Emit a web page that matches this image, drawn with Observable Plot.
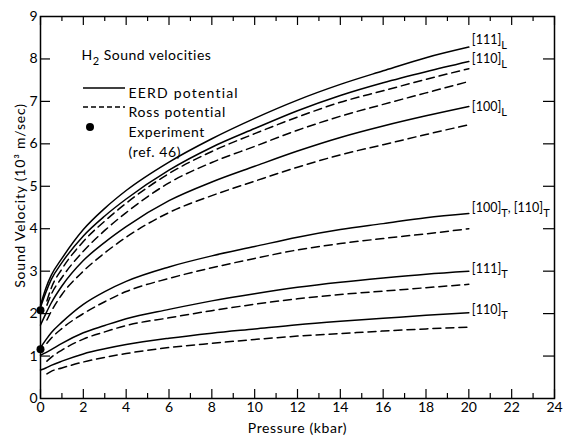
<!DOCTYPE html>
<html>
<head>
<meta charset="utf-8">
<script src="https://cdn.jsdelivr.net/npm/d3@7"></script>
<script src="https://cdn.jsdelivr.net/npm/@observablehq/plot@0.6"></script>
<style>
  html, body { margin: 0; padding: 0; background: #fff; }
  #chart { width: 563px; height: 435px; }
</style>
</head>
<body>
<div id="chart"></div>
<script>
// ---- data ----
const pressureEERD = [0, 0.25, 0.5, 1, 2, 3, 4, 6, 8, 10, 12, 14, 16, 18, 20];
const pressureRoss = [0.3, 0.5, 1, 2, 3, 4, 6, 8, 10, 12, 14, 16, 18, 20];

const modes = ["[111]_L", "[110]_L", "[100]_L", "[100]_T, [110]_T", "[111]_T", "[110]_T"];

const eerd111L = [2.2, 2.6, 2.9, 3.3, 3.98, 4.48, 4.9, 5.57, 6.12, 6.6, 7.03, 7.4, 7.72, 8.03, 8.28];
const eerd110L = [2.15, 2.5, 2.8, 3.2, 3.83, 4.3, 4.7, 5.38, 5.92, 6.36, 6.78, 7.14, 7.44, 7.7, 7.94];
const eerd100L = [1.73, 2.0, 2.25, 2.65, 3.25, 3.68, 4.05, 4.66, 5.1, 5.47, 5.83, 6.15, 6.42, 6.66, 6.88];
const eerd100T = [1.2, 1.38, 1.55, 1.8, 2.22, 2.52, 2.76, 3.1, 3.36, 3.58, 3.8, 3.98, 4.12, 4.26, 4.36];
const eerd111T = [1.02, 1.08, 1.15, 1.3, 1.55, 1.72, 1.88, 2.1, 2.3, 2.47, 2.62, 2.74, 2.84, 2.93, 3.0];
const eerd110T = [0.67, 0.72, 0.78, 0.88, 1.05, 1.17, 1.27, 1.42, 1.54, 1.64, 1.74, 1.82, 1.89, 1.96, 2.02];

const ross111L = [2.3, 2.6, 3.05, 3.7, 4.18, 4.6, 5.3, 5.82, 6.24, 6.63, 6.98, 7.25, 7.52, 7.77];
const ross110L = [2.2, 2.45, 2.85, 3.47, 3.96, 4.38, 5.08, 5.56, 5.94, 6.32, 6.65, 6.93, 7.2, 7.47];
const ross100L = [1.85, 2.05, 2.45, 3.0, 3.43, 3.8, 4.38, 4.78, 5.12, 5.45, 5.74, 5.98, 6.22, 6.45];
const ross100T = [1.3, 1.42, 1.65, 2.0, 2.28, 2.52, 2.83, 3.08, 3.3, 3.5, 3.65, 3.77, 3.88, 4.0];
const ross111T = [0.88, 0.97, 1.14, 1.4, 1.57, 1.72, 1.9, 2.07, 2.22, 2.35, 2.45, 2.53, 2.61, 2.69];
const ross110T = [0.58, 0.64, 0.72, 0.86, 0.97, 1.06, 1.2, 1.3, 1.39, 1.47, 1.53, 1.59, 1.64, 1.68];

const experimentPressure = [0, 0];
const experimentVelocity = [2.08, 1.16];

const xTicks = [0, 2, 4, 6, 8, 10, 12, 14, 16, 18, 20, 22, 24];
const xMinorTicks = [1, 3, 5, 7, 9, 11, 13, 15, 17, 19, 21, 23];
const yTicks = [0, 1, 2, 3, 4, 5, 6, 7, 8, 9];

const titleText = "H_2 Sound velocities";
const legendLabels = ["EERD potential", "Ross potential", "Experiment", "(ref. 46)"];
const xLabel = "Pressure (kbar)";
const yLabel = "Sound Velocity (10³ m/sec)";

// ---- build tables ----
const eerdSeries = [eerd111L, eerd110L, eerd100L, eerd100T, eerd111T, eerd110T];
const rossSeries = [ross111L, ross110L, ross100L, ross100T, ross111T, ross110T];
const eerdRows = modes.flatMap((m, i) => pressureEERD.map((p, j) => ({mode: m, p, v: eerdSeries[i][j]})));
const rossRows = modes.flatMap((m, i) => pressureRoss.map((p, j) => ({mode: m, p, v: rossSeries[i][j]})));
const endRows = modes.map((m, i) => ({mode: m, p: pressureEERD[pressureEERD.length - 1], v: eerdSeries[i][eerdSeries[i].length - 1]}));
const expRows = experimentPressure.map((p, i) => ({p, v: experimentVelocity[i]}));

const W = 563, H = 435;
const mL = 40, mR = 9, mT = 16, mB = 37;
const plotW = W - mL - mR, plotH = H - mT - mB;
const labelDy = {"[111]_L": -7, "[110]_L": -2, "[100]_L": 1, "[100]_T, [110]_T": -5, "[111]_T": -2, "[110]_T": -3};

const chart = Plot.plot({
  width: W, height: H,
  marginLeft: mL, marginRight: mR, marginTop: mT, marginBottom: mB,
  style: {fontFamily: "Lato, 'Open Sans', sans-serif", fontSize: "14px", color: "#000", background: "#fff"},
  x: {domain: [0, 24]},
  y: {domain: [0, 9]},
  marks: [
    Plot.frame({stroke: "#000", strokeWidth: 1.5}),
    // inward ticks
    Plot.tickX(xTicks, {x: d => d, insetTop: plotH - 9, stroke: "#000", strokeWidth: 1.2}),
    Plot.tickX(xMinorTicks, {x: d => d, insetTop: plotH - 5, stroke: "#000", strokeWidth: 1.2}),
    Plot.tickX(xTicks, {x: d => d, insetBottom: plotH - 9, stroke: "#000", strokeWidth: 1.2}),
    Plot.tickX(xMinorTicks, {x: d => d, insetBottom: plotH - 5, stroke: "#000", strokeWidth: 1.2}),
    Plot.tickY(yTicks.slice(1, -1), {y: d => d, insetRight: plotW - 10, stroke: "#000", strokeWidth: 1.2}),
    Plot.tickY(yTicks.slice(1, -1), {y: d => d, insetLeft: plotW - 11, stroke: "#000", strokeWidth: 1.2}),
    Plot.axisX({ticks: xTicks, tickSize: 0, tickPadding: 4, tickFormat: d => String(d), label: null, fontSize: 14}),
    Plot.axisY({ticks: yTicks, tickSize: 0, tickPadding: 3, tickFormat: d => String(d), label: null, fontSize: 14}),
    Plot.text([xLabel], {frameAnchor: "bottom", lineAnchor: "middle", textAnchor: "middle", dy: 30, text: d => d, fontSize: 14}),
    Plot.text([yLabel], {frameAnchor: "left", textAnchor: "middle", lineAnchor: "middle", dx: -20, dy: -12, rotate: -90, text: d => d, fontSize: 14}),
    // curves
    Plot.line(eerdRows, {x: "p", y: "v", z: "mode", stroke: "#000", strokeWidth: 1.5, curve: "monotone-x"}),
    Plot.line(rossRows, {x: "p", y: "v", z: "mode", stroke: "#000", strokeWidth: 1.5, strokeDasharray: "8,5", curve: "monotone-x"}),
    Plot.dot(expRows, {x: "p", y: "v", r: 4, fill: "#000"}),
    // end labels
    ...endRows.map(r => Plot.text([r], {x: "p", y: "v", text: "mode", textAnchor: "start", dx: 3, dy: labelDy[r.mode], fontSize: 12.5})),
    // title and legend text
    Plot.text([titleText], {frameAnchor: "top-left", dx: 41, dy: 34, text: d => d, textAnchor: "start", fontSize: 14}),
    Plot.text([legendLabels[0]], {frameAnchor: "top-left", dx: 88, dy: 72, text: d => d, textAnchor: "start", fontSize: 14}),
    Plot.text([legendLabels[1]], {frameAnchor: "top-left", dx: 88, dy: 91, text: d => d, textAnchor: "start", fontSize: 14}),
    Plot.text([legendLabels[2]], {frameAnchor: "top-left", dx: 88, dy: 111, text: d => d, textAnchor: "start", fontSize: 14}),
    Plot.text([legendLabels[3]], {frameAnchor: "top-left", dx: 88, dy: 131, text: d => d, textAnchor: "start", fontSize: 14})
  ]
});

// letter spacing to mimic the wide lettering of the original
const spacing = new Map([
  [legendLabels[0], "1.2px"], [legendLabels[1], "0.8px"], [legendLabels[2], "0.6px"], [legendLabels[3], "0.6px"],
  [titleText, "0.5px"], [xLabel, "0.6px"], [yLabel, "0.8px"]
]);
d3.select(chart).selectAll("text").each(function () {
  const s = this.textContent;
  if (spacing.has(s)) this.style.letterSpacing = spacing.get(s);
});

// subscripts via tspans
const NS = "http://www.w3.org/2000/svg";
d3.select(chart).selectAll("text").each(function () {
  const s = this.textContent;
  if (!s.includes("_")) return;
  const parts = s.split(/_(\S)/);
  const fs = parseFloat(this.getAttribute("font-size")) || 14;
  const shift = Math.round(fs * 0.38);
  while (this.firstChild) this.removeChild(this.firstChild);
  let down = false;
  parts.forEach((p, i) => {
    if (!p) return;
    const ts = document.createElementNS(NS, "tspan");
    ts.textContent = p;
    if (i % 2 === 1) {
      ts.setAttribute("dy", shift);
      ts.setAttribute("font-size", Math.round(fs * 0.75));
      down = true;
    } else if (down) {
      ts.setAttribute("dy", -shift);
      down = false;
    }
    this.appendChild(ts);
  });
});

// legend glyphs
const svg = d3.select(chart.tagName.toLowerCase() === "svg" ? chart : chart.querySelector("svg"));
const g = svg.append("g").attr("stroke", "#000").attr("stroke-width", 1.5);
g.append("line").attr("x1", 83).attr("x2", 125).attr("y1", 88).attr("y2", 88);
g.append("line").attr("x1", 83).attr("x2", 125).attr("y1", 107).attr("y2", 107).attr("stroke-dasharray", "5,3");
svg.append("circle").attr("cx", 90).attr("cy", 127).attr("r", 4).attr("fill", "#000");

document.getElementById("chart").appendChild(chart);
</script>
</body>
</html>
